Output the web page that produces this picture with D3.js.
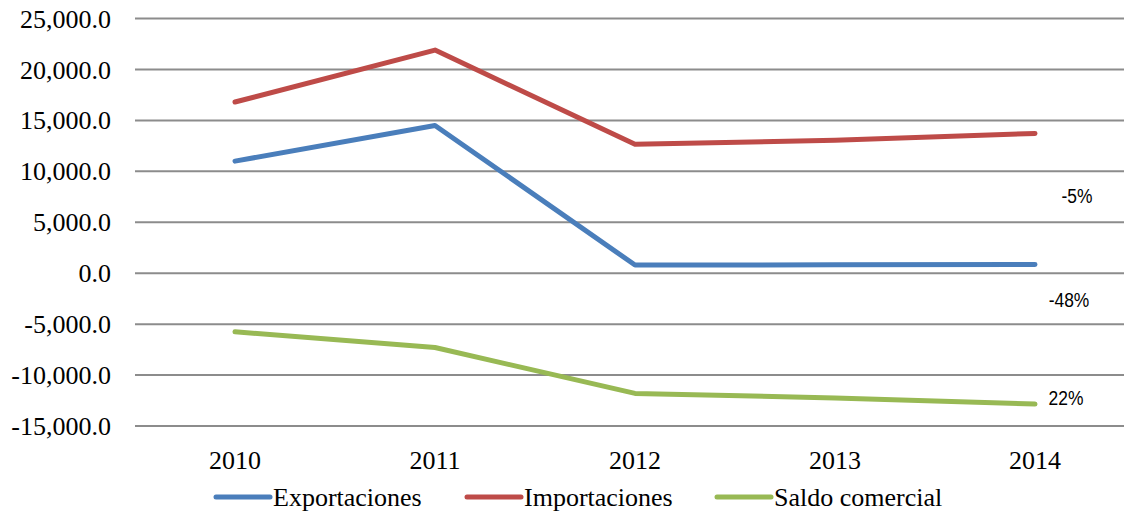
<!DOCTYPE html>
<html><head><meta charset="utf-8">
<script src="https://cdn.jsdelivr.net/npm/d3@7"></script>
<style>html,body{margin:0;padding:0;background:#fff;}svg{display:block;}</style>
</head><body>
<svg id="chart" width="1124" height="514"></svg>
<script>
const years = ["2010","2011","2012","2013","2014"];
const exportaciones = [11000, 14500, 800, 820, 850];
const importaciones = [16800, 21900, 12650, 13040, 13720];
const saldo = [-5750, -7300, -11800, -12250, -12850];
const yTicks = [25000, 20000, 15000, 10000, 5000, 0, -5000, -10000, -15000];
const seriesNames = ["Exportaciones", "Importaciones", "Saldo comercial"];
const seriesColors = ["#4A7EBB", "#BE4B48", "#98B954"];
const pctLabels = ["-5%", "-48%", "22%"];
const pctAnchors = [7550, -2650, -12250];

const svg = d3.select("#chart");
const x = d3.scalePoint().domain(years).range([135, 1135]).padding(0.5);
const y = d3.scaleLinear().domain([-15000, 25000]).range([426, 18.5]);

const fmt = d3.formatLocale({decimal: ".", thousands: ",", grouping: [3], currency: ["", ""], minus: "-"}).format(",.1f");

// gridlines
svg.append("g").selectAll("line").data(yTicks).join("line")
  .attr("x1", 135).attr("x2", 1124)
  .attr("y1", d => y(d)).attr("y2", d => y(d))
  .attr("stroke", "#8C8C8C").attr("stroke-width", 2);

// y axis labels
svg.append("g").selectAll("text").data(yTicks).join("text")
  .attr("x", 111).attr("y", d => y(d)).attr("dy", "0.35em")
  .attr("text-anchor", "end")
  .attr("font-family", "'Liberation Serif', 'Times New Roman', serif")
  .attr("font-size", 26).attr("fill", "#000")
  .text(d => fmt(d));

// x axis labels
svg.append("g").selectAll("text").data(years).join("text")
  .attr("x", d => x(d)).attr("y", 469)
  .attr("text-anchor", "middle")
  .attr("font-family", "'Liberation Serif', 'Times New Roman', serif")
  .attr("font-size", 26).attr("fill", "#000")
  .text(d => d);

const allSeries = [exportaciones, importaciones, saldo];
const line = d3.line().x((d, i) => x(years[i])).y(d => y(d));
svg.append("g").selectAll("path").data(allSeries).join("path")
  .attr("d", d => line(d))
  .attr("fill", "none")
  .attr("stroke", (d, i) => seriesColors[i])
  .attr("stroke-width", 5)
  .attr("stroke-linecap", "round")
  .attr("stroke-linejoin", "round");

// percent labels
svg.append("g").selectAll("text").data(pctLabels).join("text")
  .attr("transform", (d, i) => `translate(${[1077, 1069, 1066][i]},${y(pctAnchors[i])}) scale(0.87,1)`)
  .attr("dy", "0.35em")
  .attr("text-anchor", "middle")
  .attr("font-family", "'Liberation Sans', Arial, sans-serif")
  .attr("font-size", 20).attr("fill", "#000")
  .text(d => d);

// legend
const legendX = [216, 467, 717];
const lg = svg.append("g").selectAll("g").data(seriesNames).join("g")
  .attr("transform", (d, i) => `translate(${legendX[i]},497)`);
lg.append("line").attr("x1", 0).attr("x2", 54).attr("y1", 0).attr("y2", 0)
  .attr("stroke", (d, i) => seriesColors[i]).attr("stroke-width", 5)
  .attr("stroke-linecap", "round");
lg.append("text").attr("x", 57).attr("y", 9)
  .attr("font-family", "'Liberation Serif', 'Times New Roman', serif")
  .attr("font-size", 26).attr("fill", "#000")
  .text(d => d);
</script>
</body></html>
